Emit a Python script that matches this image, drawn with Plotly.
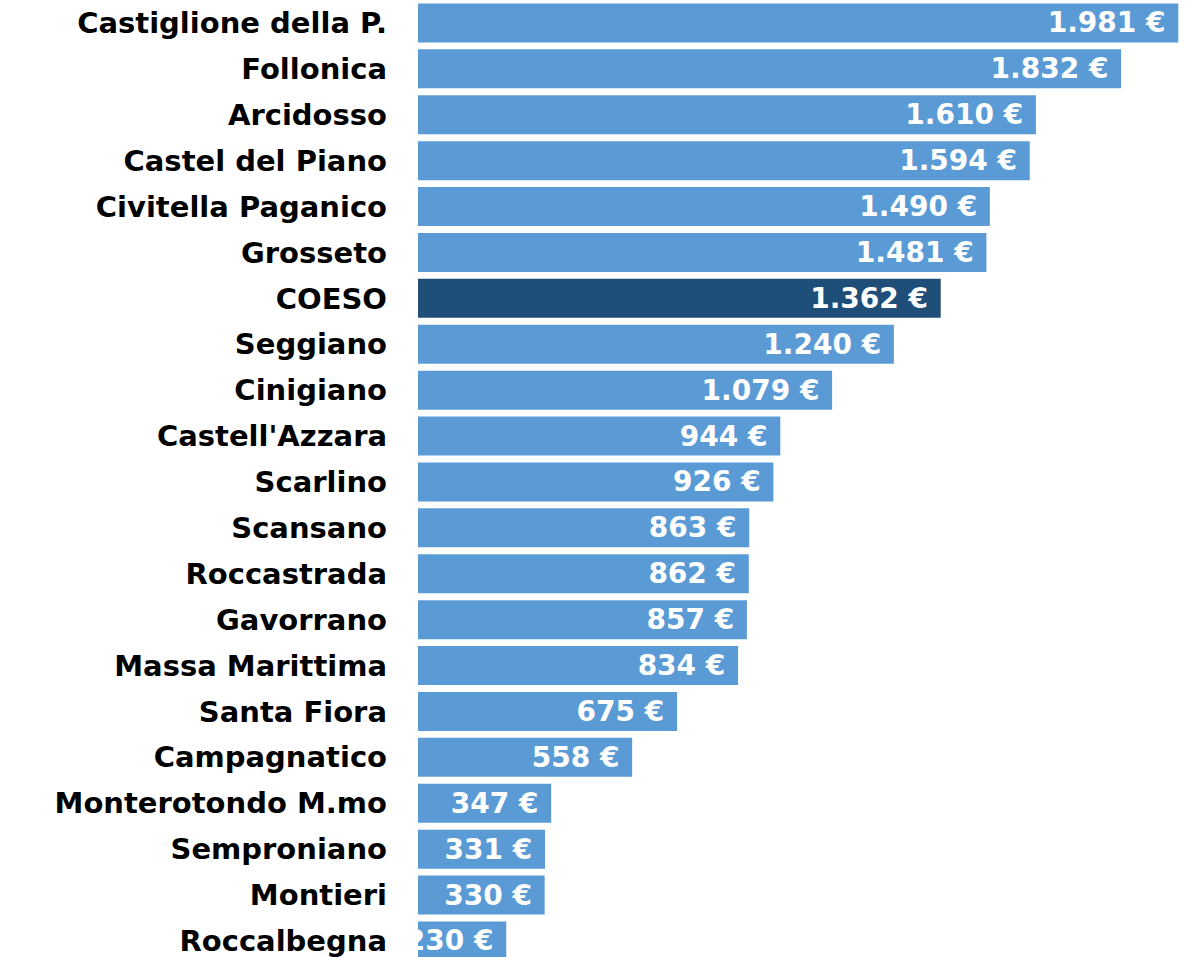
import plotly.graph_objects as go

comuni = ["Castiglione della P.", "Follonica", "Arcidosso", "Castel del Piano",
          "Civitella Paganico", "Grosseto", "COESO", "Seggiano", "Cinigiano",
          "Castell'Azzara", "Scarlino", "Scansano", "Roccastrada", "Gavorrano",
          "Massa Marittima", "Santa Fiora", "Campagnatico", "Monterotondo M.mo",
          "Semproniano", "Montieri", "Roccalbegna"]
valori = [1981, 1832, 1610, 1594, 1490, 1481, 1362, 1240, 1079, 944, 926,
          863, 862, 857, 834, 675, 558, 347, 331, 330, 230]

BLU = "#5B9BD5"
BLU_SCURO = "#1F4E79"
colori = [BLU_SCURO if c == "COESO" else BLU for c in comuni]

FONT = "DejaVu Sans"

fig = go.Figure(go.Bar(
    x=valori, y=comuni, orientation="h",
    marker=dict(color=colori, line=dict(width=0)),
    texttemplate="%{x:,.0f} €\u00a0",
    textposition="inside",
    insidetextanchor="end",
    textfont=dict(family=FONT, size=28, color="white", weight="bold"),
    cliponaxis=True,
    hoverinfo="skip",
))

fig.update_layout(
    width=1204, height=957,
    margin=dict(l=418, r=0, t=0, b=0),
    paper_bgcolor="white", plot_bgcolor="white",
    separators=",.",
    bargap=0.15,
    showlegend=False,
    font=dict(family=FONT, color="black"),
    uniformtext=dict(minsize=28, mode="show"),
)
fig.update_xaxes(range=[0, 2048], showticklabels=False, showgrid=False,
                 zeroline=False, showline=False)
fig.update_yaxes(type="category", categoryorder="array", categoryarray=comuni,
                 range=[20.35, -0.5], showgrid=False, zeroline=False,
                 showline=False, ticks="", ticklabelstandoff=30,
                 tickfont=dict(family=FONT, size=29, color="black", weight="bold"))

fig.write_html("out.html", config={"displayModeBar": False},
               post_script="document.body.style.margin='0';")
